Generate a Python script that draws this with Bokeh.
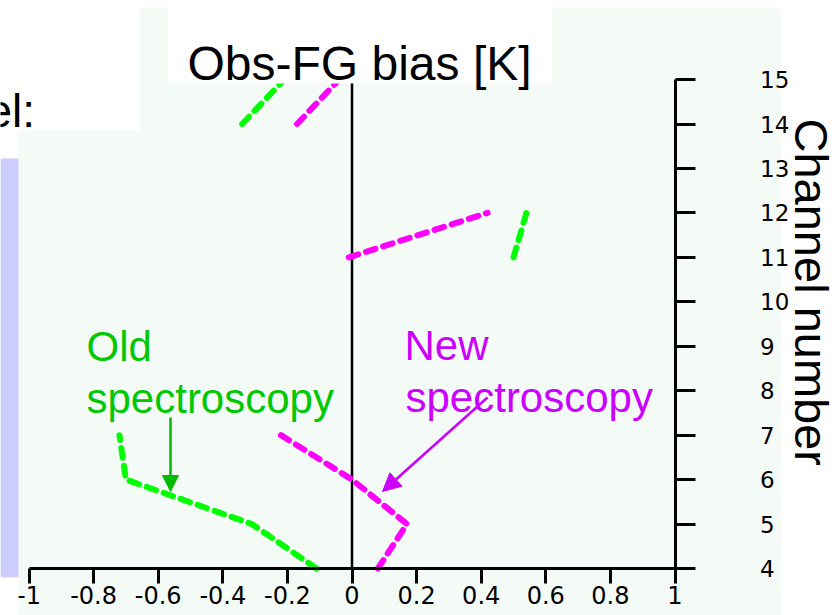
import numpy as np
from bokeh.plotting import figure
from bokeh.models import Range1d, LinearAxis, FixedTicker, Label, Arrow, NormalHead, BoxAnnotation
from bokeh.embed import file_html
from bokeh.resources import INLINE

nan = np.nan

# ---- data ----
channels = [4, 5, 6, 7, 8, 9, 10, 11, 12, 13, 14, 15]
old_bias = [-0.11, -0.31, -0.70, -0.72, nan, nan, nan, 0.50, 0.54, nan, -0.34, -0.21]
new_bias = [0.08, 0.17, 0.0, -0.22, nan, nan, nan, -0.01, 0.42, nan, -0.17, -0.04]
x_ticks = [-1.0, -0.8, -0.6, -0.4, -0.2, 0.0, 0.2, 0.4, 0.6, 0.8, 1.0]
x_tick_labels = ["-1", "-0.8", "-0.6", "-0.4", "-0.2", "0", "0.2", "0.4", "0.6", "0.8", "1"]
title_text = "Obs-FG bias [K]"
y_title = "Channel number"
old_label = ["Old", "spectroscopy"]
new_label = ["New", "spectroscopy"]

# ---- pixel <-> data mapping of the frame (frame = whole canvas) ----
W, H = 840, 615
X0PX, XS = 351.5, 323.0
Y4PX, YS = 568.0, 44.45


def dx(px):
    return (px - X0PX) / XS


def dy(py):
    return 4 + (Y4PX - py) / YS


p = figure(width=W, height=H, output_backend="svg", toolbar_location=None,
           x_range=Range1d(dx(0), dx(W)), y_range=Range1d(dy(H), dy(0)),
           x_axis_location=None, y_axis_location=None, min_border=0,
           outline_line_color=None, background_fill_color="white",
           border_fill_color="white")
p.grid.visible = False

MINT = "#F4FAF6"
# backgrounds
p.quad(left=[dx(18)], right=[dx(780)], top=[dy(7)], bottom=[dy(H)],
       fill_color=MINT, line_color=None)
p.quad(left=[dx(0)], right=[dx(140)], top=[dy(0)], bottom=[dy(130)],
       fill_color="white", line_color=None)
p.quad(left=[dx(0)], right=[dx(18)], top=[dy(158)], bottom=[dy(577)],
       fill_color="#CCCCFF", line_color=None)

# zero line
p.segment(x0=[0], y0=[channels[0]], x1=[0], y1=[channels[-1]], line_color="black", line_width=2.5)

# data lines
p.line(old_bias, channels, line_color="#00FF00", line_width=6, line_dash="10 8", line_cap="round")
p.line(new_bias, channels, line_color="#FF00FF", line_width=6, line_dash="10 8", line_cap="round")

# title box (covers line tops)
p.quad(left=[dx(168)], right=[dx(552)], top=[dy(0)], bottom=[dy(83)],
       fill_color="white", line_color=None)

# axes
xaxis = LinearAxis(fixed_location=channels[0], ticker=FixedTicker(ticks=x_ticks), bounds=(-1, 1),
                   major_label_overrides={t: l for t, l in zip(x_ticks, x_tick_labels)},
                   major_tick_out=15, major_tick_in=0, minor_tick_out=0, minor_tick_in=0,
                   axis_line_width=3, major_tick_line_width=3,
                   major_label_text_font="DejaVu Sans", major_label_text_font_size="24px",
                   major_label_text_color="black", major_label_standoff=2)
p.add_layout(xaxis, "below")

yaxis = LinearAxis(fixed_location=1, ticker=FixedTicker(ticks=channels), bounds=(4, 15),
                   major_tick_out=20, major_tick_in=0, minor_tick_out=0, minor_tick_in=0,
                   axis_line_width=3, major_tick_line_width=3,
                   major_label_text_font="DejaVu Sans", major_label_text_font_size="23px",
                   major_label_text_color="black", major_label_standoff=65,
                   major_label_text_align="center")
p.add_layout(yaxis, "right")

# hide part of "-1" label left of the mint area
p.add_layout(BoxAnnotation(left=dx(0), right=dx(18), top=dy(577), bottom=dy(H),
                           fill_color="white", fill_alpha=1, line_alpha=0, level="overlay"))

FONT = "Liberation Sans"
p.add_layout(Label(x=dx(187), y=dy(63), text=title_text, text_font=FONT,
                   text_font_size="48px", text_color="black", text_baseline="alphabetic"))
p.add_layout(Label(x=dx(-14), y=dy(110), text="el:", text_font=FONT,
                   text_font_size="46px", text_color="black", text_baseline="alphabetic"))
p.add_layout(Label(x=dx(811), y=dy(118), text=y_title, text_font=FONT, angle=-np.pi / 2,
                   text_font_size="47px", text_color="black", text_baseline="alphabetic"))

GREEN_T = "#00C800"
MAG_T = "#CC00FF"
p.add_layout(Label(x=dx(86), y=dy(346), text=old_label[0], text_font=FONT,
                   text_font_size="42px", text_color=GREEN_T, text_baseline="alphabetic"))
p.add_layout(Label(x=dx(86), y=dy(398), text=old_label[1], text_font=FONT,
                   text_font_size="42px", text_color=GREEN_T, text_baseline="alphabetic"))
p.add_layout(Label(x=dx(404), y=dy(345), text=new_label[0], text_font=FONT,
                   text_font_size="42px", text_color=MAG_T, text_baseline="alphabetic"))
p.add_layout(Label(x=dx(405), y=dy(397), text=new_label[1], text_font=FONT,
                   text_font_size="42px", text_color=MAG_T, text_baseline="alphabetic"))

# arrows
p.add_layout(Arrow(end=NormalHead(size=16, fill_color="#00BB00", line_color="#00BB00"),
                   x_start=dx(170), y_start=dy(417), x_end=dx(170), y_end=dy(491),
                   line_color="#00BB00", line_width=2.5))
p.add_layout(Arrow(end=NormalHead(size=18, fill_color=MAG_T, line_color=MAG_T),
                   x_start=dx(487), y_start=dy(397), x_end=dx(382), y_end=dy(491),
                   line_color=MAG_T, line_width=2.5))

open("out.html", "w").write(file_html(p, INLINE))
